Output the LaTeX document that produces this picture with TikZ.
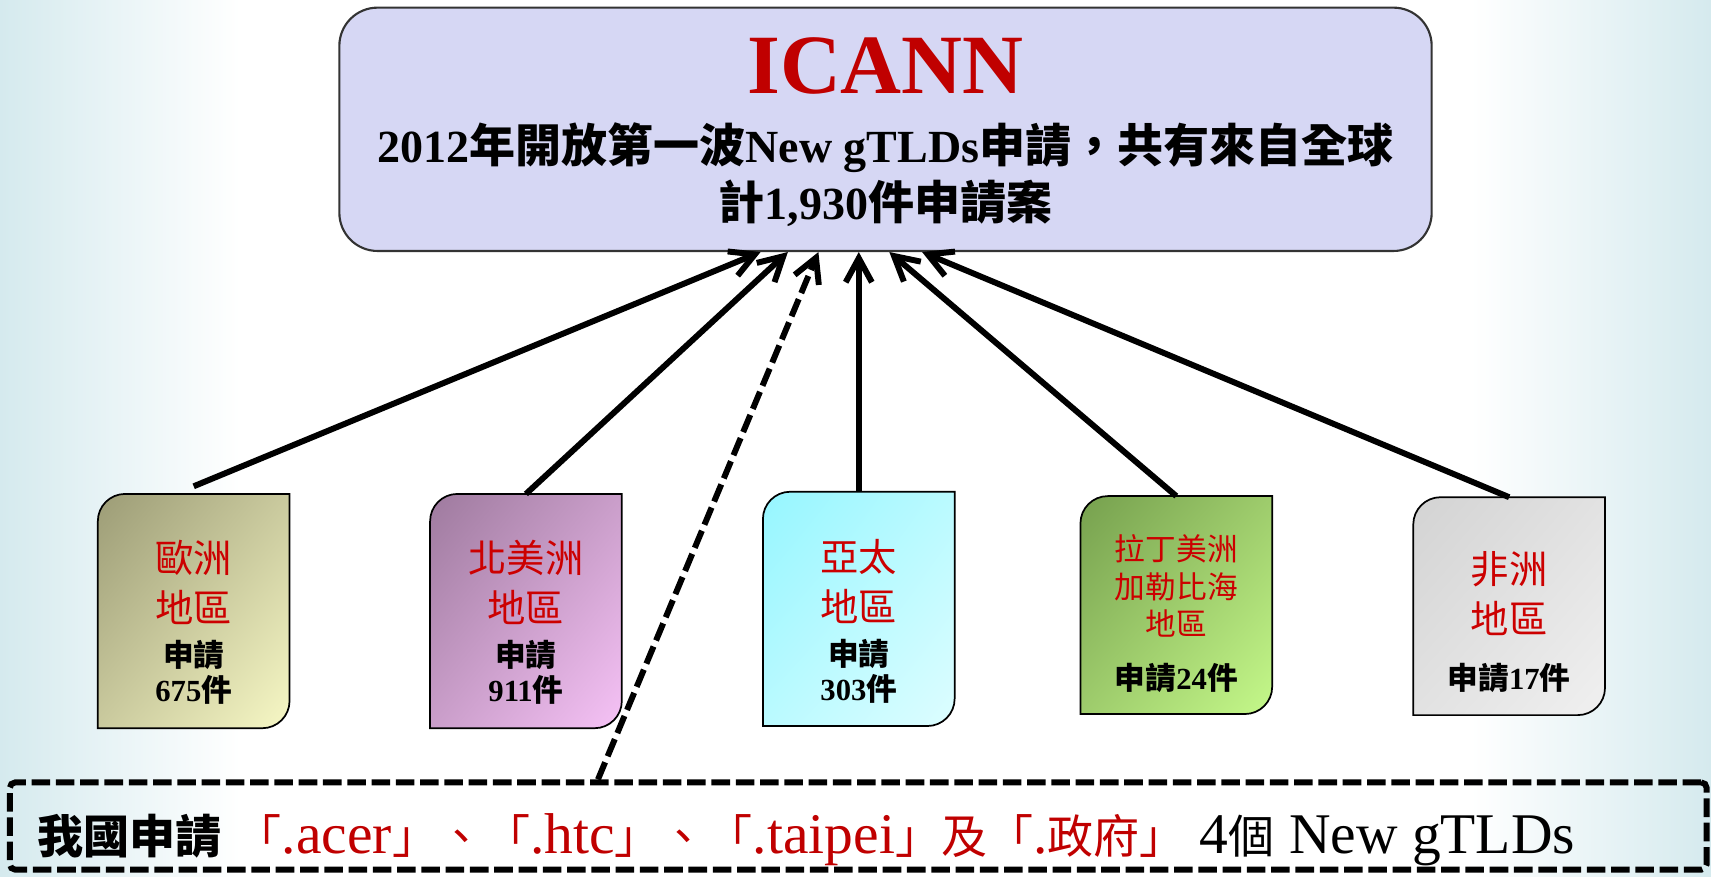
\documentclass[tikz,border=0pt]{standalone}
\usepackage{fontspec}
\setmainfont{Liberation Serif}
\newfontfamily\cjk{Noto Sans CJK TC}
\newfontfamily\cjksmall[Scale=0.8]{Noto Sans CJK TC}
\usepackage{xcolor}
\usetikzlibrary{arrows.meta, shadings}

\definecolor{bgblue}{HTML}{D5EAEE}
\definecolor{icannfill}{HTML}{D6D7F4}
\definecolor{icannred}{HTML}{C00000}
\definecolor{regionred}{HTML}{CC0000}
\definecolor{euA}{HTML}{9C9C76}\definecolor{euM}{HTML}{CACA9E}\definecolor{euB}{HTML}{F7F8C5}
\definecolor{naA}{HTML}{9E7A9E}\definecolor{naM}{HTML}{CA9ECA}\definecolor{naB}{HTML}{F6C2F6}
\definecolor{apA}{HTML}{96F6FF}\definecolor{apM}{HTML}{BAFAFF}\definecolor{apB}{HTML}{DDFDFF}
\definecolor{laA}{HTML}{76A04E}\definecolor{laM}{HTML}{9ECC6C}\definecolor{laB}{HTML}{C5F98A}
\definecolor{afA}{HTML}{D3D3D3}\definecolor{afM}{HTML}{E2E2E2}\definecolor{afB}{HTML}{F0F0F0}

\tikzset{
  regionbox/.style={minimum width=35mm, minimum height=42.8mm, inner sep=0pt},
  regionedge/.style={draw=black, line width=0.9pt},
  regionname/.style={align=center, text=regionred, font=\cjk\fontsize{20}{26}\selectfont},
  regioncount/.style={align=center, font=\bfseries\fontsize{16}{18}\selectfont},
  flow/.style={line width=3.1pt, -{Straight Barb[length=4.4mm, width=4.8mm]}},
}

\begin{document}
\begin{tikzpicture}[x=0.2mm, y=0.2mm]
\useasboundingbox (0,0) rectangle (1568,803);
\fill[white] (0,0) rectangle (1568,803);
\shade[left color=bgblue, right color=white] (0,0) rectangle (220,803);
\shade[left color=white, right color=bgblue] (1348,0) rectangle (1568,803);

% ICANN
\node[draw=black!80, line width=1.1pt, fill=icannfill, rounded corners=7mm, minimum width=200.2mm, minimum height=44.6mm] (icann) at (811.5,684.5) {};
\node[text=icannred, font=\bfseries\fontsize{44}{48}\selectfont] (icann-name) at (811.5,742.5) {ICANN};
\node[font=\bfseries\fontsize{24}{28}\selectfont] (icann-line1) at (811.5,668) {2012{\cjk 年開放第一波}New gTLDs{\cjk 申請，共有來自全球}};
\node[font=\bfseries\fontsize{24}{28}\selectfont] (icann-line2) at (811.5,617) {{\cjk 計}1,930{\cjk 件申請案}};

% regions
\node[regionbox] (eu) at (177.5,243) {};
\node[regionbox] (na) at (482,243) {};
\node[regionbox] (ap) at (787,245) {};
\node[regionbox, minimum height=39.8mm] (la) at (1078,248.5) {};
\node[regionbox, minimum height=39.8mm] (af) at (1383,247.5) {};

\shadedraw[regionedge, upper left=euA, upper right=euM, lower left=euM, lower right=euB] (eu.south west) -- ([yshift=-5mm]eu.north west) arc[start angle=180, end angle=90, radius=5mm] -- (eu.north east) -- ([yshift=5mm]eu.south east) arc[start angle=0, end angle=-90, radius=5mm] -- cycle;
\shadedraw[regionedge, upper left=naA, upper right=naM, lower left=naM, lower right=naB] (na.south west) -- ([yshift=-5mm]na.north west) arc[start angle=180, end angle=90, radius=5mm] -- (na.north east) -- ([yshift=5mm]na.south east) arc[start angle=0, end angle=-90, radius=5mm] -- cycle;
\shadedraw[regionedge, upper left=apA, upper right=apM, lower left=apM, lower right=apB] (ap.south west) -- ([yshift=-5mm]ap.north west) arc[start angle=180, end angle=90, radius=5mm] -- (ap.north east) -- ([yshift=5mm]ap.south east) arc[start angle=0, end angle=-90, radius=5mm] -- cycle;
\shadedraw[regionedge, upper left=laA, upper right=laM, lower left=laM, lower right=laB] (la.south west) -- ([yshift=-5mm]la.north west) arc[start angle=180, end angle=90, radius=5mm] -- (la.north east) -- ([yshift=5mm]la.south east) arc[start angle=0, end angle=-90, radius=5mm] -- cycle;
\shadedraw[regionedge, upper left=afA, upper right=afM, lower left=afM, lower right=afB] (af.south west) -- ([yshift=-5mm]af.north west) arc[start angle=180, end angle=90, radius=5mm] -- (af.north east) -- ([yshift=5mm]af.south east) arc[start angle=0, end angle=-90, radius=5mm] -- cycle;

\node[regionname] (eu-name) at (177.5,269) {歐洲\\地區};
\node[regioncount] (eu-count) at (177.5,187) {{\cjk 申請}\\675{\cjk 件}};
\node[regionname] (na-name) at (482,269) {北美洲\\地區};
\node[regioncount] (na-count) at (482,187) {{\cjk 申請}\\911{\cjk 件}};
\node[regionname] (ap-name) at (787,270) {亞太\\地區};
\node[regioncount] (ap-count) at (787,188) {{\cjk 申請}\\303{\cjk 件}};
\node[regionname, font=\cjk\fontsize{16}{19.6}\selectfont] (la-name) at (1078,266) {拉丁美洲\\加勒比海\\地區};
\node[regioncount] (la-count) at (1078,182) {{\cjk 申請}24{\cjk 件}};
\node[regionname] (af-name) at (1383,259) {非洲\\地區};
\node[regioncount] (af-count) at (1383,182) {{\cjk 申請}17{\cjk 件}};

% Taiwan
\node[draw, line width=3.1pt, dash pattern=on 3.4mm off 1.05mm, rounded corners=1mm, minimum width=311mm, minimum height=16mm] (tw) at (786.5,46) {};
\node[anchor=west, inner sep=0pt, font=\fontsize{30}{34}\selectfont] (tw-text) at (34,33) {{\cjksmall\bfseries 我國申請} \textcolor{icannred}{{\cjksmall 「}.acer{\cjksmall 」、「}.htc{\cjksmall 」、「}.taipei{\cjksmall 」及「}.{\cjksmall 政府」}} 4{\cjksmall 個} New gTLDs};

\draw[flow] ([yshift=1.4mm]eu.north) -- ([xshift=-22.9mm]icann.south);
\draw[flow] (na.north) -- ([xshift=-17.9mm]icann.south);
\draw[flow] (ap.north) -- (ap.north |- icann.south);
\draw[flow] (la.north) -- ([xshift=0.7mm]icann.south);
\draw[flow] (af.north) -- ([xshift=6.7mm]icann.south);
\draw[flow, dash pattern=on 3.4mm off 1.2mm] ([xshift=-47.7mm]tw.north) -- ([xshift=-12.3mm]icann.south);
\end{tikzpicture}
\end{document}
